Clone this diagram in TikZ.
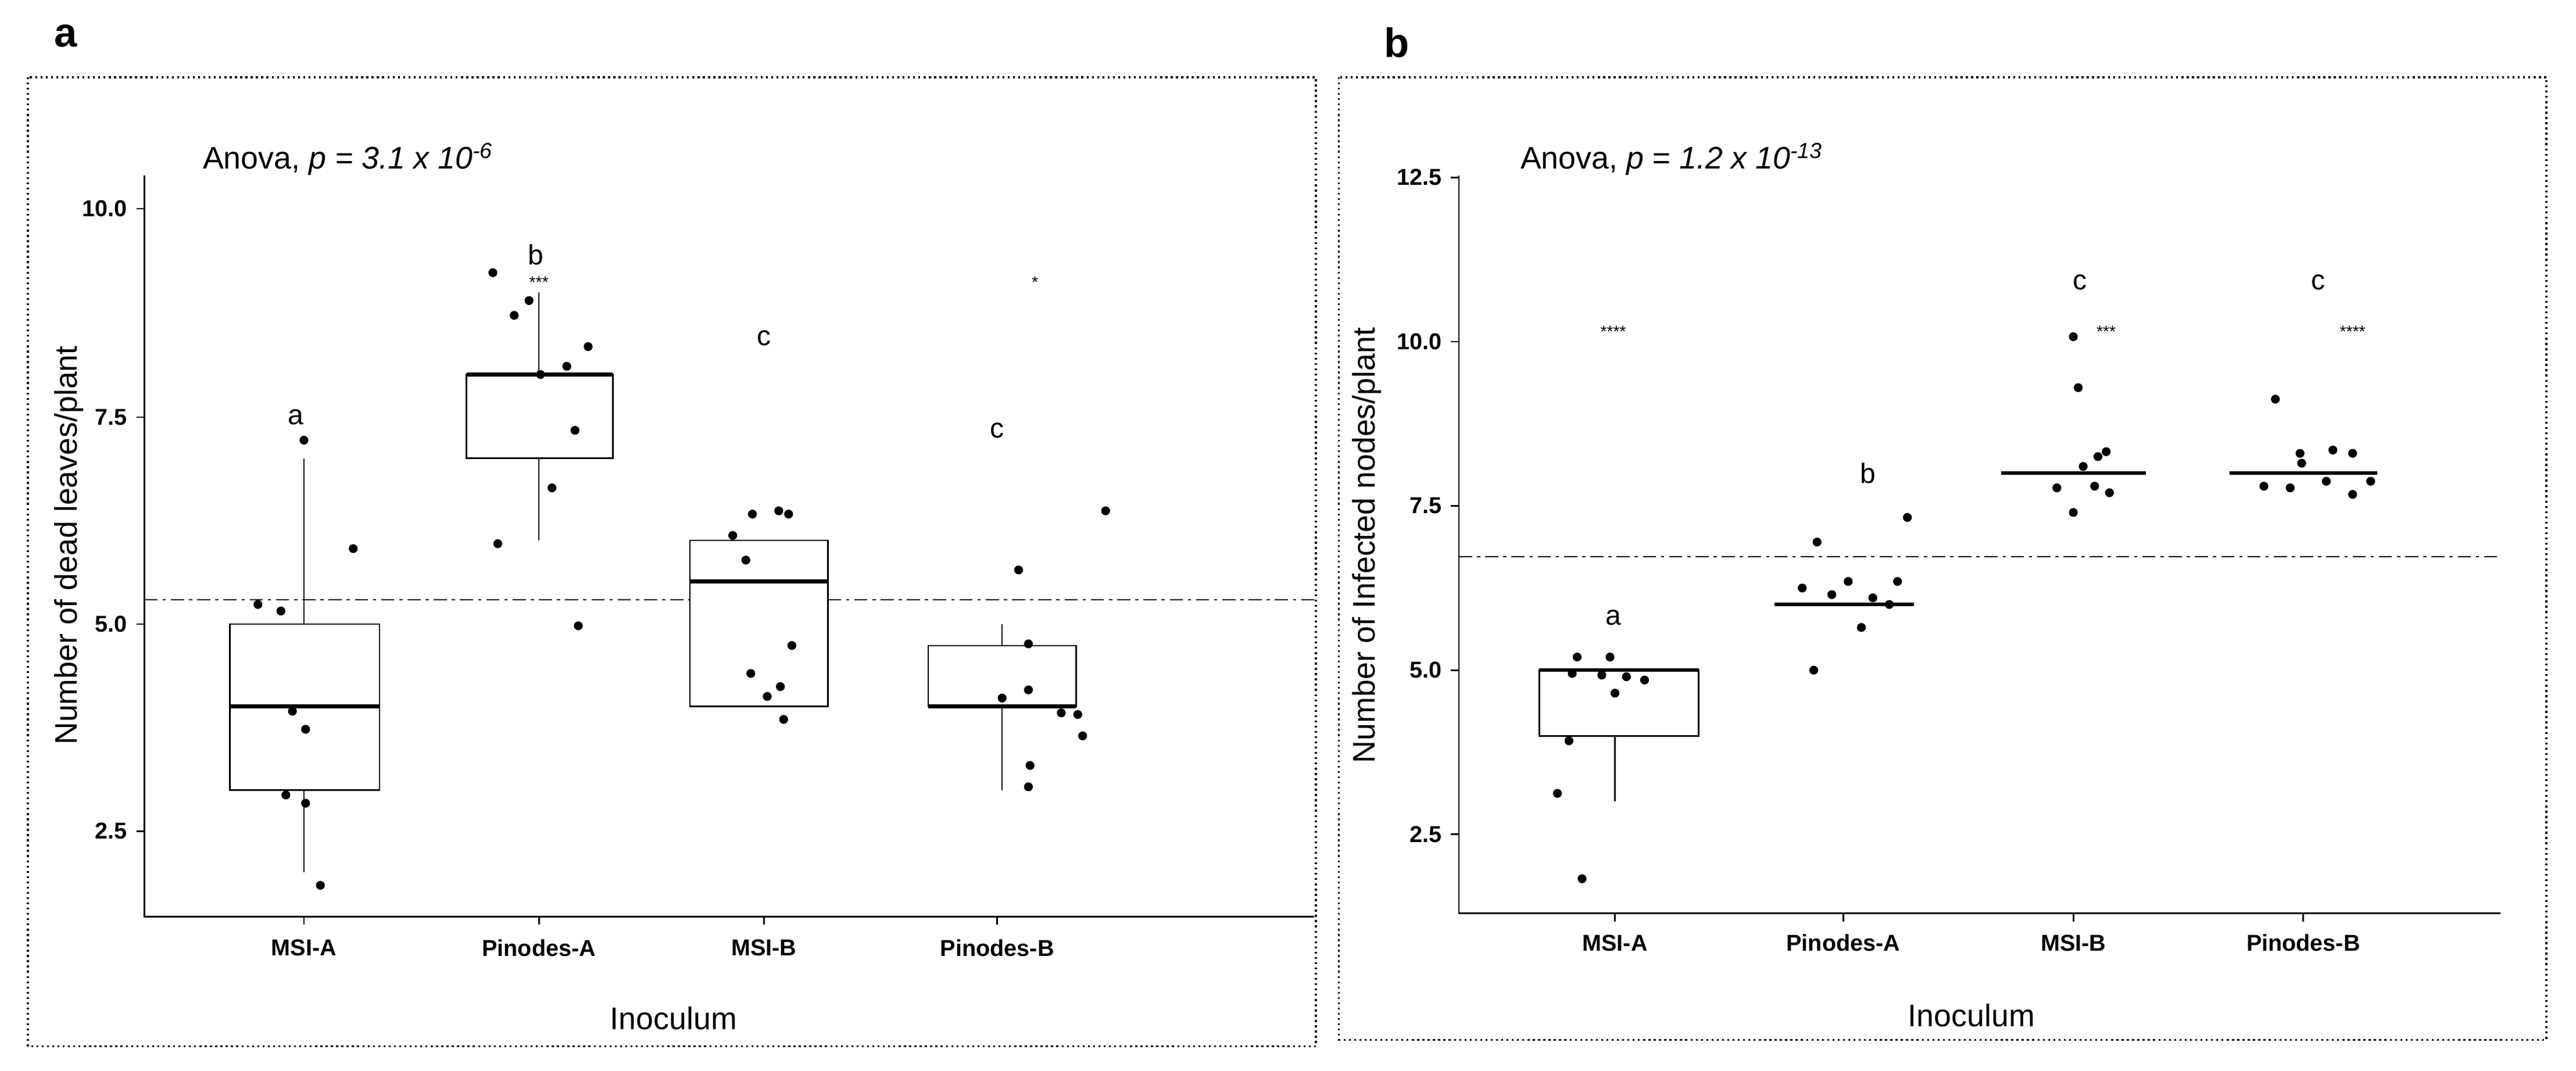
\documentclass[tikz,border=0pt]{standalone}
\usepackage{fontspec}
\setmainfont{Liberation Sans}
\begin{document}
\begin{tikzpicture}[x=1pt,y=-1pt,
  frame/.style={draw,dotted,line width=1.2pt},
  ax/.style={line width=1pt},
  boxs/.style={draw,line width=0.9pt},
  med/.style={line width=2.2pt},
  pt/.style={fill=black},
  tick/.style={font=\bfseries\fontsize{14}{14}\selectfont},
  ttl/.style={font=\fontsize{19}{19}\selectfont},
  let/.style={font=\fontsize{17}{17}\selectfont},
  star/.style={font=\fontsize{10}{10}\selectfont},
  ref/.style={dash pattern=on 8pt off 3pt on 2pt off 3pt,line width=0.8pt}]
\useasboundingbox (0,0) rectangle (1568,652);
% ---------------- panel a
\node[font=\bfseries\fontsize{25}{25}\selectfont] (la) at (40,22) {a};
\draw[frame] (17,47) rectangle (801,637);
\draw[ax] (88,107) -- (88,558) -- (800,558);
\foreach \v/\y in {10.0/127,7.5/254,5.0/380,2.5/506}{
  \draw[ax] (83,\y) -- (88,\y); \node[tick,anchor=east] at (81,\y) {\v};}
\foreach \n/\x in {MSI-A/185,Pinodes-A/328,MSI-B/465,Pinodes-B/607}{
  \draw[ax] (\x,558) -- (\x,563); \node[tick] at (\x,577) {\n};}
\node[ttl] (xa) at (410,620) {Inoculum};
\node[ttl,rotate=90] (ya) at (42,332) {Number of dead leaves/plant};
\node[ttl,anchor=west] (anova) at (120,97) {Anova, \textit{p = 3.1 x 10\textsuperscript{-6}}};
\draw[ref] (88,365) -- (800,365);
% boxes
\draw[boxs] (185,380) -- (185,279); \draw[boxs] (185,481) -- (185,531);
\draw[boxs,fill=white] (140,380) rectangle (231,481); \draw[med] (140,430) -- (231,430);
\draw[boxs] (328,228) -- (328,178); \draw[boxs] (328,279) -- (328,329);
\draw[boxs,fill=white] (284,228) rectangle (373,279); \draw[med] (284,228) -- (373,228);
\draw[boxs,fill=white] (420,329) rectangle (504,430); \draw[med] (420,354) -- (504,354);
\draw[boxs] (610,418) -- (610,380); \draw[boxs] (610,430) -- (610,481);
\draw[boxs,fill=white] (565,393) rectangle (655,430); \draw[med] (565,430) -- (655,430);
\foreach \p in {(185,268),(215,334),(157,368),(171,372),(178,433),(186,444),(174,484),(186,489),(195,539),
 (300,166),(322,183),(313,192),(329,228),(345,223),(358,211),(350,262),(336,297),(303,331),(352,381),
 (458,313),(446,326),(454,341),(474,311),(480,313),(482,393),(457,410),(475,418),(467,424),(477,438),
 (620,347),(673,311),(626,392),(626,420),(610,425),(646,434),(656,435),(659,448),(627,466),(626,479)}
 \fill \p circle (2.7);
\node[let] (a1) at (180,254) {a};
\node[let] (a2) at (326,155) {b};
\node[let] (a3) at (465,206) {c};
\node[let] (a4) at (607,262) {c};
\node[star] (s1) at (328,172) {***};
\node[star] (s2) at (630,172) {*};
% ---------------- panel b
\node[font=\bfseries\fontsize{25}{25}\selectfont] (lb) at (850,26) {b};
\draw[frame] (815,47) rectangle (1550,633);
\draw[ax] (888,107) -- (888,556) -- (1522,556);
\foreach \v/\y in {12.5/108,10.0/208,7.5/308,5.0/408,2.5/508}{
  \draw[ax] (883,\y) -- (888,\y); \node[tick,anchor=east] at (881,\y) {\v};}
\foreach \n/\x in {MSI-A/983,Pinodes-A/1122,MSI-B/1262,Pinodes-B/1402}{
  \draw[ax] (\x,556) -- (\x,561); \node[tick] at (\x,574) {\n};}
\node[ttl] (xb) at (1200,618) {Inoculum};
\node[ttl,rotate=90] (yb) at (832,332) {Number of Infected nodes/plant};
\node[ttl,anchor=west] (anovb) at (922,97) {Anova, \textit{p = 1.2 x 10\textsuperscript{-13}}};
\draw[ref] (888,339) -- (1522,339);
\draw[boxs] (983,448) -- (983,488);
\draw[boxs,fill=white] (937,408) rectangle (1034,448); \draw[med] (937,408) -- (1034,408);
\draw[med] (1080,368) -- (1165,368);
\draw[med] (1218,288) -- (1306,288);
\draw[med] (1357,288) -- (1447,288);
\foreach \p in {(960,400),(980,400),(957,410),(975,411),(990,412),(1001,414),(983,422),(955,451),(948,483),(963,535),
 (1106,330),(1161,315),(1097,358),(1115,362),(1125,354),(1155,354),(1140,364),(1150,368),(1133,382),(1104,408),
 (1262,205),(1265,236),(1282,275),(1277,278),(1268,284),(1252,297),(1275,296),(1284,300),(1262,312),
 (1385,243),(1420,274),(1400,276),(1401,282),(1432,276),(1378,296),(1394,297),(1416,293),(1443,293),(1432,301)}
 \fill \p circle (2.7);
\node[let] (b1) at (982,376) {a};
\node[let] (b2) at (1137,288) {b};
\node[let] (b3) at (1266,172) {c};
\node[let] (b4) at (1411,172) {c};
\node[star] (t1) at (982,202) {****};
\node[star] (t2) at (1282,202) {***};
\node[star] (t3) at (1432,202) {****};
\end{tikzpicture}
\end{document}
